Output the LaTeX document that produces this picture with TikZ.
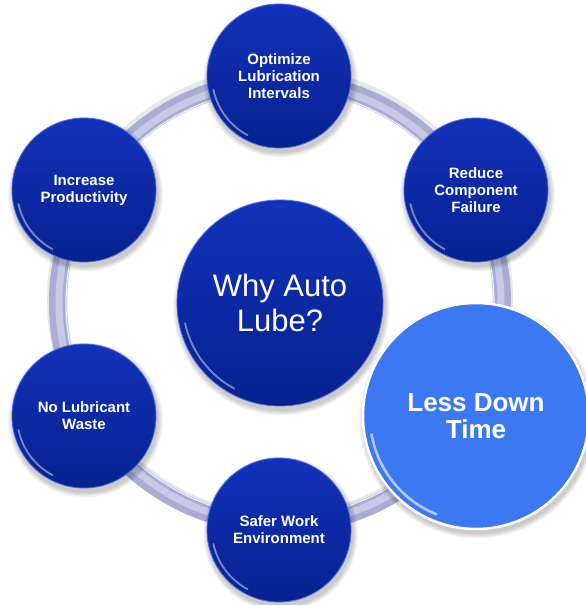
\documentclass[tikz,border=0pt]{standalone}
\usepackage{fontspec}
\setmainfont{Liberation Sans}
\definecolor{navytop}{HTML}{1232BA}
\definecolor{navybot}{HTML}{06218F}
\definecolor{skyb}{HTML}{3B78F2}
\definecolor{ringc}{HTML}{A9ADD3}
\definecolor{ringhi}{HTML}{C6C9E8}
\definecolor{rimc}{HTML}{4A6AE0}
\begin{document}
\begin{tikzpicture}[x=1pt,y=-1pt,
  bubble/.style={circle, inner sep=0pt, align=center, text=white,
     top color=navytop, bottom color=navybot, draw=rimc, line width=0.8pt},
  small/.style={font=\fontsize{15}{17}\selectfont\bfseries},
  glint/.style={white, line width=1.8pt, opacity=0.45, line cap=round}]
\useasboundingbox (0,0) rectangle (586,605);
\fill[white] (0,0) rectangle (586,605);
% ring
\coordinate (rc) at (280,303);
\draw[gray!50, line width=20pt, opacity=0.35] ([yshift=3pt]rc) circle (223);
\draw[ringc, line width=18pt] (rc) circle (222);
\draw[ringhi, line width=7pt] (rc) circle (221);
\draw[white, line width=1.2pt, opacity=0.8] (rc) circle (214);
% soft shadows
\foreach \x/\y/\r in {279/76/72, 476/190/72, 84/190/72, 280/303/103, 84/416/72, 279/530/72, 476/416/113}{
  \foreach \i in {1,...,6}{
    \fill[black, opacity=0.035] (\x+1.5,\y+4) circle (\r+\i*0.9);
  }
}
% circles
\node[bubble, minimum size=144pt, small] (opt) at (279,76) {Optimize\\Lubrication\\Intervals};
\node[bubble, minimum size=144pt, small] (red) at (476,190) {Reduce\\Component\\Failure};
\node[bubble, minimum size=144pt, small] (inc) at (84,190) {Increase\\Productivity};
\node[bubble, minimum size=206pt, font=\fontsize{31}{35}\selectfont] (why) at (280,303) {Why Auto\\Lube?};
\node[bubble, minimum size=144pt, small] (nol) at (84,416) {No Lubricant\\Waste};
\node[bubble, minimum size=144pt, small] (saf) at (279,530) {Safer Work\\Environment};
\node[circle, inner sep=0pt, align=center, text=white, fill=skyb, draw=white, line width=2.5pt,
      minimum size=226pt, font=\fontsize{26}{27.5}\selectfont\bfseries] (less) at (476,416) {Less Down\\Time};
% glints on lower-left edges (y axis points down, so angles 110..170 are lower left)
\foreach \n/\r in {opt/67, red/67, inc/67, nol/67, saf/67, why/97}{
  \draw[glint] ([shift={(118:\r)}]\n.center) arc[start angle=118, end angle=168, radius=\r];
}
\draw[glint, opacity=0.6, line width=2.6pt] ([shift={(112:106)}]less.center) arc[start angle=112, end angle=170, radius=106];
\end{tikzpicture}
\end{document}
